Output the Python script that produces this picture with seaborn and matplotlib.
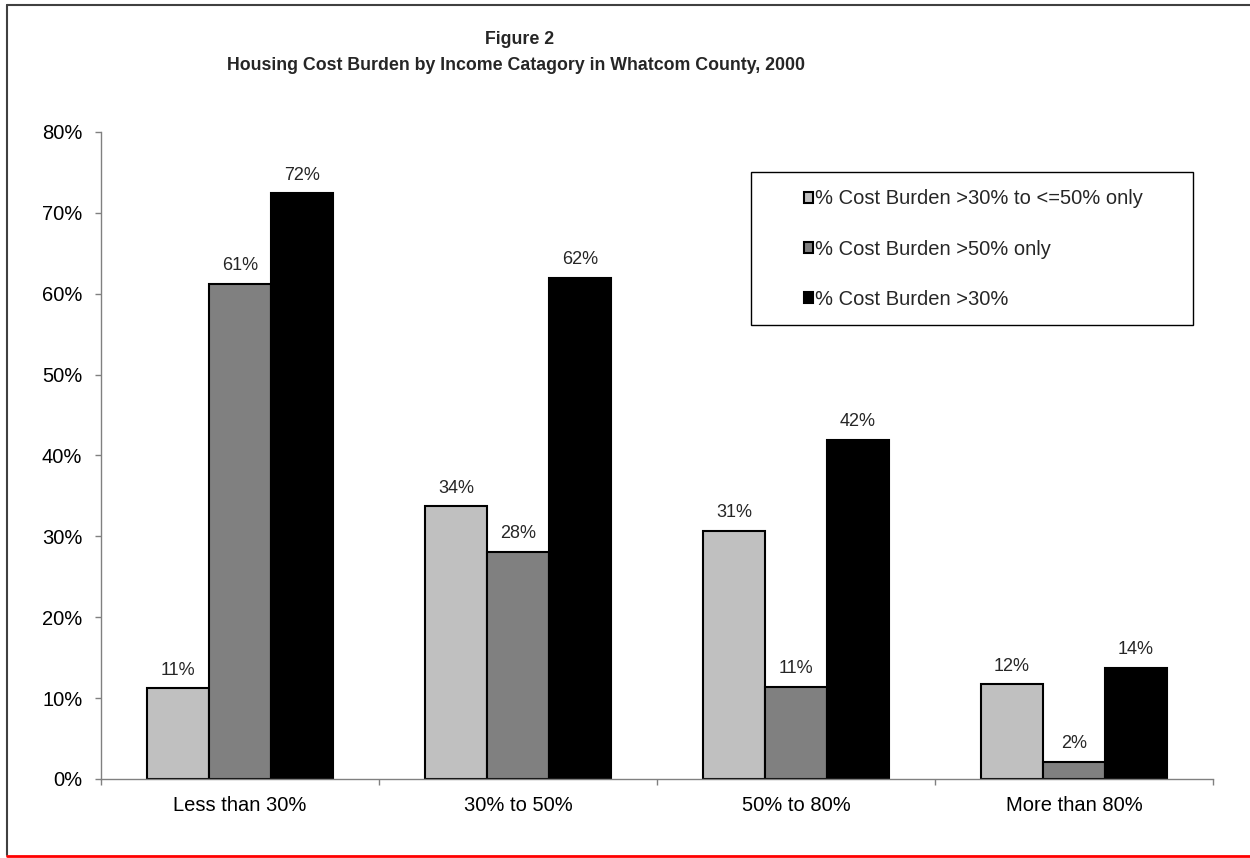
import matplotlib
matplotlib.use('Agg')
import matplotlib.pyplot as plt
import seaborn as sns
import pandas as pd
from matplotlib.patches import Rectangle
from matplotlib.lines import Line2D
from matplotlib.ticker import FuncFormatter, FixedLocator

categories = ["Less than 30%", "30% to 50%", "50% to 80%", "More than 80%"]
series = ["% Cost Burden >30% to <=50% only", "% Cost Burden >50% only", "% Cost Burden >30%"]
burden_30_50 = [11.2, 33.7, 30.7, 11.7]
burden_50 = [61.2, 28.1, 11.4, 2.1]
burden_30 = [72.4, 62.0, 41.9, 13.7]
colors = ["#c0c0c0", "#808080", "#000000"]
y_ticks = [0, 10, 20, 30, 40, 50, 60, 70, 80]

all_vals = [burden_30_50, burden_50, burden_30]
rows = []
for s, vals in zip(series, all_vals):
    for c, v in zip(categories, vals):
        rows.append({"category": c, "series": s, "value": v})
df = pd.DataFrame(rows)

sns.set_theme(style="white")
plt.rcParams['font.family'] = ['Liberation Sans', 'DejaVu Sans']

fig = plt.figure(figsize=(12.5, 8.58), dpi=100)
ax = fig.add_axes([0.0808, 0.0921, 0.8896, 0.7541])

sns.barplot(data=df, x="category", y="value", hue="series", order=categories,
            hue_order=series, palette=colors, width=0.67, edgecolor="black",
            linewidth=1.5, saturation=1, ax=ax, legend=True)

handles, labels = ax.get_legend_handles_labels()
ax.get_legend().remove()
leg = ax.legend(handles, labels, loc="center left", bbox_to_anchor=(0.632, 0.819),
                frameon=False, fontsize=14.5, handlelength=0.45, handleheight=0.45,
                handletextpad=0.1, labelspacing=1.55, borderpad=0, borderaxespad=0)
ax.add_patch(Rectangle((0.5845, 0.7017), 0.982 - 0.5845, 0.938 - 0.7017,
                       transform=ax.transAxes, fill=False, edgecolor="black",
                       linewidth=1, clip_on=False, zorder=5))

for container, vals in zip(ax.containers, all_vals):
    ax.bar_label(container, labels=[f"{v:.0f}%" for v in vals], padding=7, fontsize=13)

ax.set_xlim(-0.5, 3.5)
ax.set_ylim(0, 80)
ax.set_yticks(y_ticks)
ax.yaxis.set_major_formatter(FuncFormatter(lambda x, p: f"{x:.0f}%"))
ax.set_xlabel("")
ax.set_ylabel("")
for sp in ["top", "right"]:
    ax.spines[sp].set_visible(False)
for sp in ["left", "bottom"]:
    ax.spines[sp].set_color("#808080")
    ax.spines[sp].set_linewidth(1)

ax.tick_params(axis="y", which="major", left=True, length=4.5, width=1, color="#808080",
               direction="out", pad=9, labelsize=14.5, labelcolor="black")
ax.xaxis.set_minor_locator(FixedLocator([-0.5, 0.5, 1.5, 2.5, 3.5]))
ax.tick_params(axis="x", which="minor", bottom=True, length=4, width=1, color="#808080", direction="out")
ax.tick_params(axis="x", which="major", bottom=False, length=0, pad=12, labelsize=14.5, labelcolor="black")

fig.text(0.416, 1 - 40 / 858, "Figure 2", ha="center", va="center", fontsize=12.8, fontweight="bold")
fig.text(0.413, 1 - 65 / 858, "Housing Cost Burden by Income Catagory in Whatcom County, 2000",
         ha="center", va="center", fontsize=12.8, fontweight="bold")

fig.add_artist(Line2D([0.0056, 0.0056], [0.0035, 0.9942], color="#404040", lw=1.5, transform=fig.transFigure))
fig.add_artist(Line2D([0.0056, 1.0], [0.9942, 0.9942], color="#404040", lw=1.5, transform=fig.transFigure))
fig.add_artist(Line2D([0.0056, 1.0], [0.0023, 0.0023], color="#ff0000", lw=2, transform=fig.transFigure))

fig.savefig("out.png", dpi=100)
